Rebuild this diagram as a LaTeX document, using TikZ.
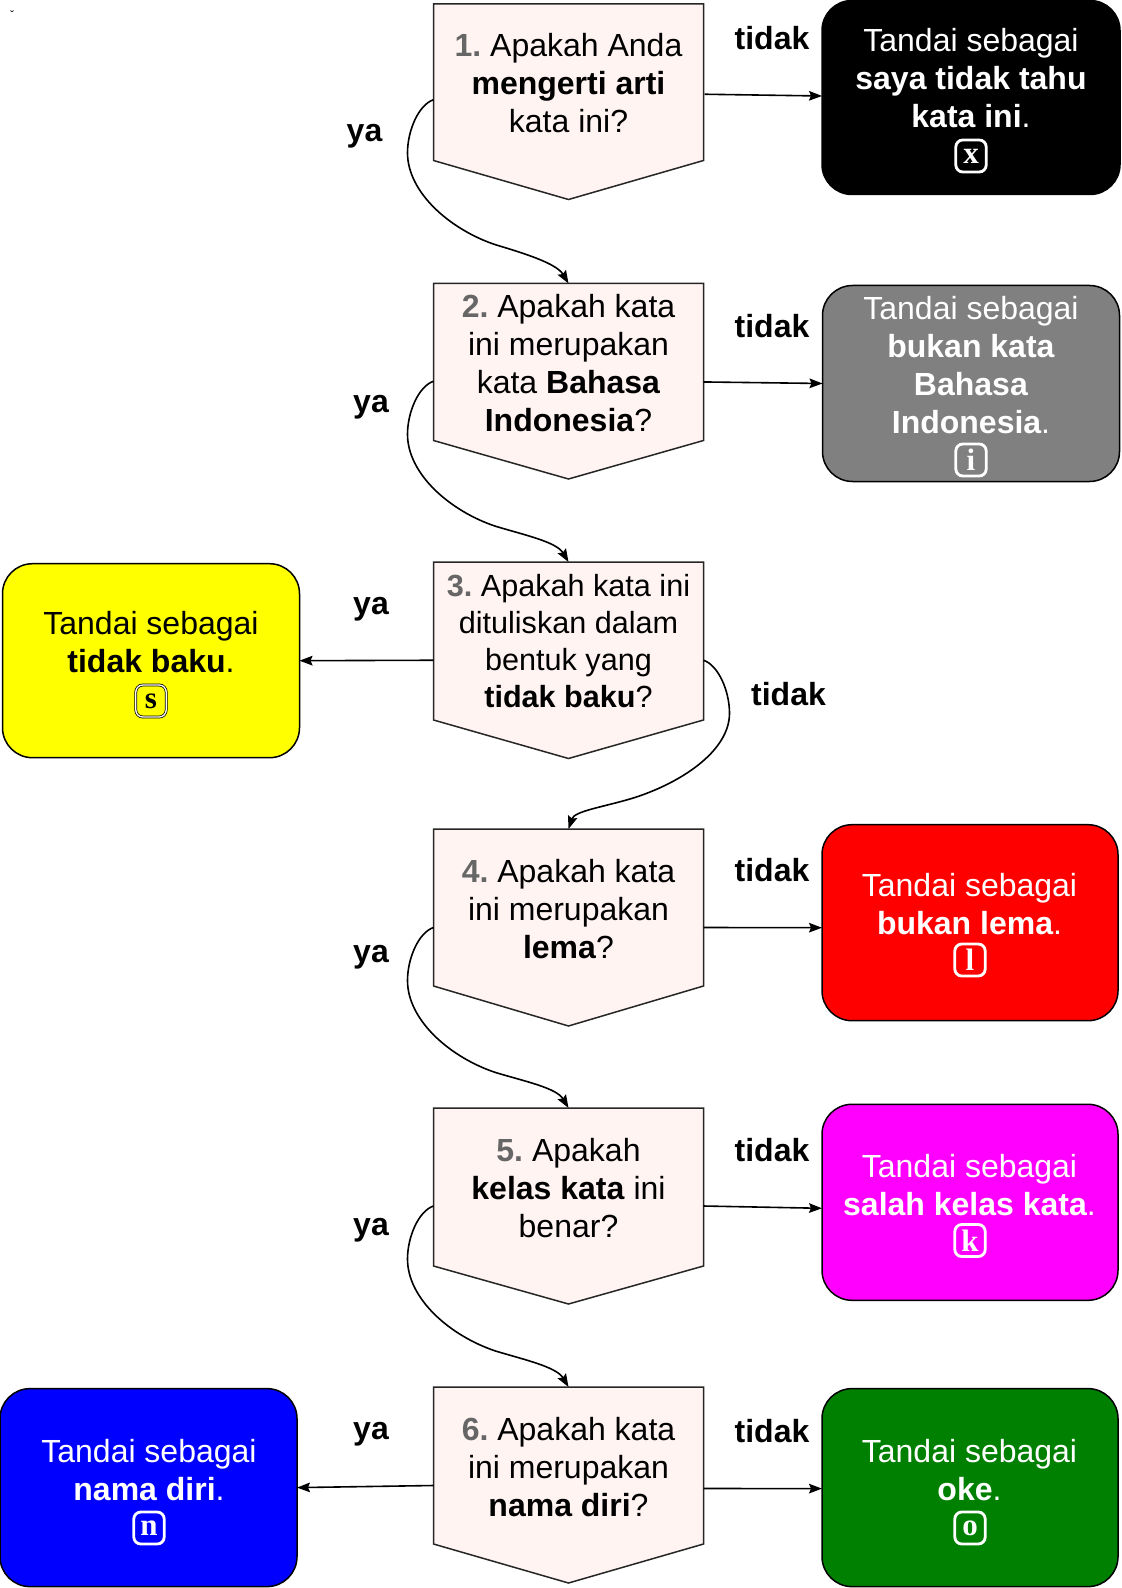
\documentclass[tikz,border=0pt]{standalone}
\usepackage{fontspec}
\setmainfont{Liberation Sans}
\newfontfamily\keyfont{Liberation Serif}
\usetikzlibrary{arrows.meta,calc}
\definecolor{qfill}{HTML}{FFF4F1}
\definecolor{numgrey}{HTML}{666666}
\definecolor{okgreen}{HTML}{008000}
\definecolor{slategrey}{HTML}{808080}
\definecolor{pureyellow}{HTML}{FFFF00}
\definecolor{puremagenta}{HTML}{FF00FF}
\definecolor{purered}{HTML}{FF0000}
\definecolor{pureblue}{HTML}{0000FF}
\newcommand{\qnum}[1]{\textcolor{numgrey}{\textbf{#1}}}
\newcommand{\qbox}[4]{%
  \draw[qline] (433.5,#2) -- (703.5,#2) -- (703.5,#3) -- (568.5,#4) -- (433.5,#3) -- cycle;
  \path let \p1=(433.5,#2), \p2=(703.5,#4), \n1={abs(\x2-\x1)}, \n2={abs(\y2-\y1)} in
    node[qframe,minimum width=\n1,minimum height=\n2] (#1) at ($(\p1)!.5!(\p2)$) {};
}
\tikzset{
  x=.5pt,y=-.5pt,
  base/.style={font=\fontsize{16}{19}\selectfont,align=center,inner sep=0pt},
  qline/.style={line width=.75pt,draw=black!85,fill=qfill,line join=miter},
  qframe/.style={inner sep=0pt,outer sep=0pt},
  qtext/.style={base,text=black},
  rbox/.style={line width=.75pt,draw=black,rounded corners=15pt,minimum width=#1,inner sep=0pt,outer sep=0pt,minimum height=97pt},
  outt/.style={base,text=white},
  lab/.style={base,font=\fontsize{16}{19}\selectfont\bfseries},
  keybox/.style={draw=#1,line width=.38pt,double distance=.65pt,rounded corners=3.5pt,minimum width=15.2pt,minimum height=16pt,inner sep=0pt,text=#1,font=\keyfont\bfseries\fontsize{15.5}{15.5}\selectfont},
  conn/.style={line width=.8pt,draw=black,-{Stealth[length=6.5pt,width=4.8pt,inset=1pt]}},
}
\begin{document}
\frenchspacing
\begin{tikzpicture}
\useasboundingbox (0,0) rectangle (1121,1588);
\fill[white] (0,0) rectangle (1121,1588);
\node[font=\fontsize{6}{6}\selectfont,inner sep=0pt] (caron) at (12,15) {ˇ};

\qbox{q1}{4}{160.5}{199.5}{}
\qbox{q2}{283.5}{440.5}{479}{}
\qbox{q3}{562}{720}{758.5}{}
\qbox{q4}{829}{986}{1026}{}
\qbox{q5}{1108}{1266}{1304}{}
\qbox{q6}{1387}{1544}{1583}{}

\node[qtext] (t1) at (568.5,83) {\qnum{1.} Apakah Anda\\\textbf{mengerti arti}\\kata ini?};
\node[qtext] (t2) at (568.5,363.5) {\qnum{2.} Apakah kata\\ini merupakan\\kata \textbf{Bahasa}\\\textbf{Indonesia}?};
\node[qtext,font=\fontsize{15.3}{18.6}\selectfont] (t3) at (568.5,641) {\qnum{3.} Apakah kata ini\\dituliskan dalam\\bentuk yang\\\textbf{tidak baku}?};
\node[qtext] (t4) at (568.5,909) {\qnum{4.} Apakah kata\\ini merupakan\\\textbf{lema}?};
\node[qtext] (t5) at (568.5,1188) {\qnum{5.} Apakah\\\textbf{kelas kata} ini\\benar?};
\node[qtext] (t6) at (568.5,1467) {\qnum{6.} Apakah kata\\ini merupakan\\\textbf{nama diri}?};

\node[rbox=149pt,fill=black] (rblack) at (971,97.5) {};
\node[rbox=148.5pt,fill=slategrey,minimum height=98pt] (rgrey) at (971,383.5) {};
\node[rbox=148.5pt,fill=pureyellow] (ryellow) at (151,660.7) {};
\node[rbox=148pt,fill=purered,minimum height=98pt] (rred) at (970,922.7) {};
\node[rbox=148pt,fill=puremagenta,minimum height=98pt] (rmag) at (970,1202.3) {};
\node[rbox=148.5pt,fill=pureblue,minimum height=99pt] (rblue) at (148.5,1487.6) {};
\node[rbox=148pt,fill=okgreen,minimum height=99pt] (rgreen) at (970,1487.6) {};

\node[outt] (o1) at (971,78) {Tandai sebagai\\\textbf{saya tidak tahu}\\\textbf{kata ini}.};
\node[outt] (o2) at (971,365.5) {Tandai sebagai\\\textbf{bukan kata}\\\textbf{Bahasa}\\\textbf{Indonesia}.};
\node[base,text=black] (o3) at (151,642) {Tandai sebagai\\\textbf{tidak baku}.};
\node[outt] (o4) at (969.5,904.5) {Tandai sebagai\\\textbf{bukan lema}.};
\node[outt] (o5) at (969.5,1185) {Tandai sebagai\\\textbf{salah kelas kata}.};
\node[outt] (o6) at (149,1470) {Tandai sebagai\\\textbf{nama diri}.};
\node[outt] (o7) at (969.5,1470) {Tandai sebagai\\\textbf{oke}.};

\node[keybox=white] (kx) at (971,156) {x};
\node[keybox=white] (ki) at (971,460) {i};
\node[keybox=black] (ks) at (151,701) {s};
\node[keybox=white] (kl) at (970,960) {l};
\node[keybox=white] (kk) at (970,1240.5) {k};
\node[keybox=white] (kn) at (149,1528) {n};
\node[keybox=white] (ko) at (970,1528) {o};

\node[lab] (n1) at (772,38.5) {tidak};
\node[lab] (n2) at (772,326) {tidak};
\node[lab] (n3) at (788.5,694) {tidak};
\node[lab] (n4) at (772,870) {tidak};
\node[lab] (n5) at (772,1150) {tidak};
\node[lab] (n6) at (772,1431) {tidak};
\node[lab] (y1) at (364.5,136) {ya};
\node[lab] (y2) at (371,407) {ya};
\node[lab] (y3) at (371,609) {ya};
\node[lab] (y4) at (371,957) {ya};
\node[lab] (y5) at (371,1230) {ya};
\node[lab] (y6) at (371,1434) {ya};

% horizontal connectors
\draw[conn] ($(q1.east)+(1,-7.5)$) -- ($(rblack.west)+(0,-1.5)$);
\draw[conn] ($(q2.east)+(0,0.7)$) -- ($(rgrey.west)+(0,0)$);
\draw[conn] (q3.west) -- (ryellow.east);
\draw[conn] (q4.east) -- ($(rred.west)+(0,5)$);
\draw[conn] ($(q5.east)+(0,0)$) -- ($(rmag.west)+(0,6)$);
\draw[conn] ($(q6.west)+(0,.5)$) -- (rblue.east);
\draw[conn] ($(q6.east)+(0,3.5)$) -- ($(rgreen.west)+(0,1)$);

% curved connectors (the second control point of each piece is relative to that piece's end)
\newcommand{\ycurve}[3]{%
  \draw[conn] ($(#1.west)+(0,#3)$) .. controls +(-15,5) and +(0,-22) ..
    ++(-26,53) .. controls +(0,40) and +(-45,-15) .. ++(88,92)
    .. controls +(30,9) and +(-12,-20) .. (#2.north);
}
\ycurve{q1}{q2}{-2}
\ycurve{q2}{q3}{0}
\ycurve{q4}{q5}{0}
\ycurve{q5}{q6}{0}
\draw[conn] (q3.east) .. controls +(15,5) and +(0,-22) ..
    ++(26,53) .. controls +(0,38) and +(48,-15) .. ++(-97,85)
    .. controls +(-30,9) and +(6,-18) .. (q4.north);
\end{tikzpicture}
\end{document}
